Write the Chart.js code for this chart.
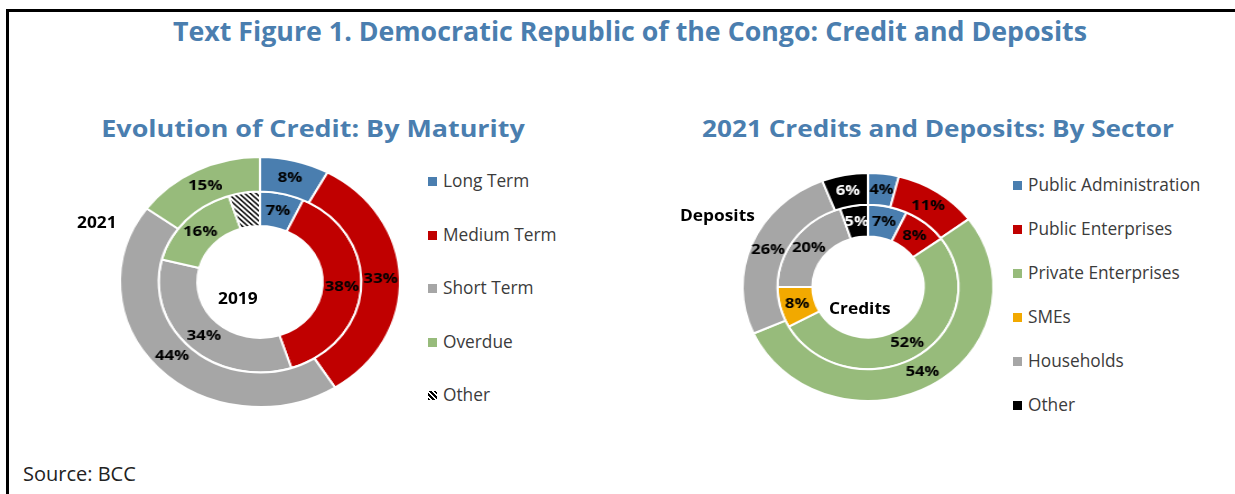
<!DOCTYPE html>
<html>
<head>
<meta charset="utf-8">
<script src="https://cdn.jsdelivr.net/npm/chart.js@4.4.1/dist/chart.umd.min.js"></script>
<style>
  body { margin: 0; width: 1235px; height: 494px; background: #fff; position: relative; overflow: hidden;
         font-family: "Open Sans", "Noto Sans", sans-serif; }
  .rule-top { position: absolute; left: 6px; top: 9px; width: 1229px; height: 3px; background: #000; }
  .rule-left { position: absolute; left: 6px; top: 9px; width: 3px; height: 485px; background: #000; }
  .title { position: absolute; left: 630px; top: 13px; color: #4a7eaf; font-weight: 700; font-size: 26.5px;
           white-space: nowrap; transform: translateX(-50%) scaleX(1.01); }
  .sub { position: absolute; top: 111px; color: #4a7eaf; font-weight: 700; font-size: 24px; white-space: nowrap;
         transform: translateX(-50%) scaleX(1.12); }
  .tag { position: absolute; font-weight: 700; font-size: 16.5px; color: #000; white-space: nowrap;
         transform: scaleX(1.05); transform-origin: left center; }
  .wrap { position: absolute; }
  .legend { position: absolute; font-size: 17.3px; color: #3b3b3b; }
  .legend div { position: absolute; white-space: nowrap; left: 0; }
  .legend i { display: inline-block; width: 9px; height: 9px; margin-right: 6px; vertical-align: 1px; }
  .source { position: absolute; left: 23px; top: 460px; font-size: 20px; color: #222; }
</style>
</head>
<body>
<div class="rule-top"></div>
<div class="rule-left"></div>
<div class="title">Text Figure 1. Democratic Republic of the Congo: Credit and Deposits</div>
<div class="sub" style="left:313px">Evolution of Credit: By Maturity</div>
<div class="sub" style="left:938px;transform:translateX(-50%) scaleX(1.09)">2021 Credits and Deposits: By Sector</div>

<div class="wrap" id="wrapL"><canvas id="chartMaturity"></canvas></div>
<div class="wrap" id="wrapR"><canvas id="chartSector"></canvas></div>

<div class="tag" style="left:77px;top:210px">2021</div>
<div class="tag" style="left:218px;top:286px">2019</div>
<div class="tag" style="left:680px;top:203px">Deposits</div>
<div class="tag" style="left:829px;top:296px">Credits</div>

<div class="legend" id="legendL" style="left:428px;top:169px"></div>
<div class="legend" id="legendR" style="left:1013px;top:173px"></div>

<div class="source">Source: BCC</div>

<script>
// ---- maturity breakdown (outer ring 2021, inner ring 2019)
const maturityLabels = ["Long Term", "Medium Term", "Short Term", "Overdue", "Other"];
const maturity2021 = [8, 33, 44, 15, 0];
const maturity2019 = [7, 38, 34, 16, 5];

// ---- sector breakdown for 2021 (outer ring deposits, inner ring credits)
const sectorLabels = ["Public Administration", "Public Enterprises", "Private Enterprises", "SMEs", "Households", "Other"];
const deposits2021 = [4, 11, 54, 0, 26, 6];
const credits2021 = [7, 8, 52, 8, 20, 5];

const BLUE = "#4a7eaf", RED = "#c00000", GREY = "#a6a6a6", GREEN = "#97bb7b", ORANGE = "#f2a900", BLACK = "#000000";

// diagonal hatch used for the "Other" maturity slice
function hatchPattern() {
  const c = document.createElement("canvas");
  c.width = 5; c.height = 5;
  const g = c.getContext("2d");
  g.fillStyle = "#fff";
  g.fillRect(0, 0, 5, 5);
  g.strokeStyle = "#000";
  g.lineWidth = 1.5;
  g.beginPath();
  g.moveTo(-1, -1); g.lineTo(6, 6);
  g.moveTo(-1, 4); g.lineTo(1, 6);
  g.moveTo(4, -1); g.lineTo(6, 1);
  g.stroke();
  return g.createPattern(c, "repeat");
}

const maturityColors = [BLUE, RED, GREY, GREEN, hatchPattern()];
const sectorColors = [BLUE, RED, GREEN, ORANGE, GREY, BLACK];

// percent labels in the middle of every arc
const sliceLabels = {
  id: "sliceLabels",
  afterDatasetsDraw(chart, args, opts) {
    const ctx = chart.ctx;
    ctx.save();
    ctx.font = "700 15px 'Open Sans', sans-serif";
    ctx.textAlign = "center";
    ctx.textBaseline = "middle";
    chart.data.datasets.forEach((ds, i) => {
      const meta = chart.getDatasetMeta(i);
      meta.data.forEach((arc, j) => {
        const v = ds.data[j];
        if (!v || (opts.skip || []).includes(j)) return;
        const p = arc.tooltipPosition();
        ctx.fillStyle = ds.backgroundColor[j] === BLACK ? "#fff" : "#000";
        ctx.fillText(v + "%", p.x, p.y);
      });
    });
    ctx.restore();
  }
};

function makeDonut(id, wrapId, size, radius, hole, cx, cy, stretch, outer, inner, colors, skip) {
  const canvas = document.getElementById(id);
  canvas.width = size; canvas.height = size;
  const wrap = document.getElementById(wrapId);
  wrap.style.left = (cx - size / 2) + "px";
  wrap.style.top = (cy - size / 2) + "px";
  wrap.style.width = size + "px";
  wrap.style.height = size + "px";
  wrap.style.transform = "scaleX(" + stretch + ")";
  return new Chart(canvas, {
    type: "doughnut",
    data: {
      datasets: [
        { data: outer, backgroundColor: colors, borderColor: "#fff", borderWidth: 2 },
        { data: inner, backgroundColor: colors, borderColor: "#fff", borderWidth: 2 }
      ]
    },
    options: {
      responsive: false,
      animation: false,
      radius: radius,
      cutout: hole,
      plugins: { legend: { display: false }, tooltip: { enabled: false }, sliceLabels: { skip: skip } }
    },
    plugins: [sliceLabels]
  });
}

makeDonut("chartMaturity", "wrapL", 270, 125, 60, 260, 282, 1.12, maturity2021, maturity2019, maturityColors, [4]);
makeDonut("chartSector", "wrapR", 250, 114, 55, 868, 287, 1.1, deposits2021, credits2021, sectorColors, []);

function buildLegend(elId, labels, swatches, step) {
  const el = document.getElementById(elId);
  labels.forEach((name, k) => {
    const row = document.createElement("div");
    row.style.top = (k * step) + "px";
    const sw = document.createElement("i");
    sw.style.background = swatches[k];
    row.appendChild(sw);
    row.appendChild(document.createTextNode(name));
    el.appendChild(row);
  });
}

buildLegend("legendL", maturityLabels,
  [BLUE, RED, GREY, GREEN, "repeating-linear-gradient(45deg,#000 0 1.5px,#fff 1.5px 3.5px)"], 53.5);
buildLegend("legendR", sectorLabels, sectorColors, 44);
</script>
</body>
</html>
